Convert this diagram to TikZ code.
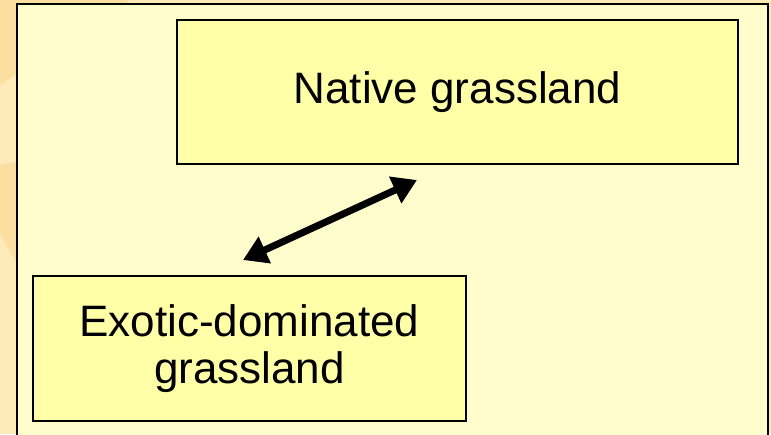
\documentclass[tikz,border=0pt]{standalone}
\usepackage{fontspec}
\setmainfont{Liberation Sans}
\usepackage{tikz}
\usetikzlibrary{arrows.meta}

\definecolor{peach}{HTML}{FADFA0}
\definecolor{lightpeach}{HTML}{FCEBB8}
\definecolor{cream}{HTML}{FFFDCC}
\definecolor{boxfill}{HTML}{FFFFA8}

\tikzset{
	statebox/.style = {draw=black, line width=1.5pt, fill=boxfill, align=center,
		inner sep=0pt, font=\fontsize{44}{47}\selectfont}
}

\begin{document}
\begin{tikzpicture}[x=1pt, y=1pt]
		% page background
		\fill[lightpeach] (0,0) rectangle (771,434);
		\fill[peach] (0,434) -- (130,434) -- (0,349) -- cycle;
		\fill[peach] (0,269) -- (17,272) -- (17,170) -- (0,200) -- cycle;
		\useasboundingbox (0,0) rectangle (771,434);
		% outer frame
		\draw[line width=1.5pt, fill=cream] (17,-10) -- (17,430) -- (768,430) -- (768,-10);
		% the two states
		\node[statebox, minimum width=561pt, minimum height=144pt] (native) at (457.5,342) {Native grassland};
		\node[statebox, minimum width=433pt, minimum height=145pt] (exotic) at (249.5,85.5) {Exotic-dominated\\grassland};
		% transition between them
		\coordinate (a) at (243,174);
		\coordinate (b) at (417,254);
		\draw[line width=7pt, {Triangle[length=24pt,width=28pt]}-{Triangle[length=24pt,width=28pt]}] (a) -- (b);
	\end{tikzpicture}
\end{document}
